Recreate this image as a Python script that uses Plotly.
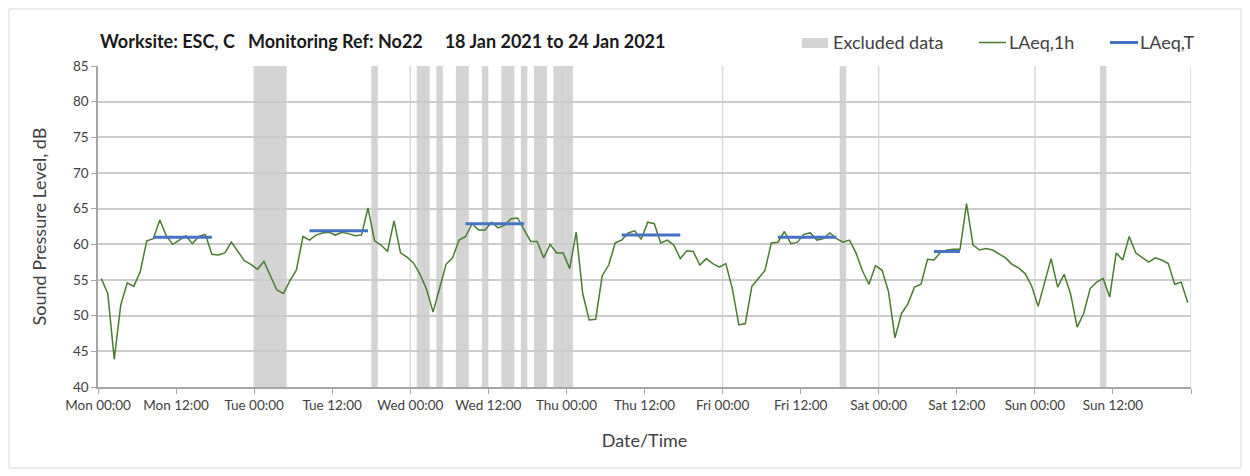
import plotly.graph_objects as go
import pandas as pd

# ---------------- data ----------------
week_start = "2021-01-18 00:00"

# hourly LAeq,1h values (dB), Mon 00:00 .. Sun 23:00
laeq_1h = [
    55.2, 53.1, 43.9, 51.5, 54.6, 54.1, 56.2, 60.5, 60.8, 63.4, 61.2, 60.0,
    60.6, 61.2, 60.1, 61.1, 61.4, 58.6, 58.5, 58.8, 60.3, 59.0, 57.7, 57.2,
    56.5, 57.6, 55.5, 53.6, 53.1, 54.9, 56.4, 61.1, 60.6, 61.3, 61.6, 61.7,
    61.3, 61.7, 61.5, 61.2, 61.3, 65.1, 60.5, 59.9, 59.0, 63.3, 58.8, 58.2,
    57.4, 55.8, 53.7, 50.5, 53.8, 57.2, 58.1, 60.6, 61.1, 62.9, 62.0, 62.0,
    63.1, 62.3, 62.7, 63.6, 63.7, 62.0, 60.4, 60.4, 58.1, 60.0, 58.8, 58.8,
    56.6, 61.7, 53.1, 49.4, 49.5, 55.6, 57.1, 60.2, 60.6, 61.6, 61.9, 60.7,
    63.1, 62.9, 60.2, 60.6, 59.9, 58.0, 59.1, 59.0, 57.1, 58.0, 57.3, 56.8,
    57.3, 53.8, 48.7, 48.9, 54.1, 55.2, 56.3, 60.2, 60.3, 61.8, 60.1, 60.3,
    61.4, 61.6, 60.6, 60.8, 61.6, 60.8, 60.3, 60.6, 58.8, 56.3, 54.4, 57.0,
    56.4, 53.4, 46.9, 50.3, 51.7, 54.0, 54.4, 57.9, 57.8, 58.9, 59.2, 59.3,
    59.3, 65.7, 59.9, 59.2, 59.4, 59.2, 58.6, 58.1, 57.2, 56.7, 55.9, 54.2,
    51.3, 54.6, 58.0, 54.0, 55.8, 53.0, 48.4, 50.3, 53.8, 54.7, 55.2, 52.6,
    58.8, 57.8, 61.1, 58.8, 58.1, 57.5, 58.1, 57.8, 57.3, 54.4, 54.7, 51.8,
]

# LAeq,T periods (hour index of first and last hourly value, and level)
laeqT_first_hour = [8, 32, 56, 80, 104, 128]
laeqT_last_hour = [17, 41, 65, 89, 113, 132]
laeqT_values = [61.0, 61.9, 62.9, 61.3, 61.0, 59.0]

# excluded data periods (hours from Mon 00:00)
excluded_start = [24, 42, 49, 52, 55, 59, 62, 65, 67, 70, 114, 154]
excluded_end = [29, 43, 51, 53, 57, 60, 64, 66, 69, 73, 115, 155]

# x tick labels every 12 h (last tick at the end of the week is unlabelled)
x_tick_labels = ["Mon 00:00", "Mon 12:00", "Tue 00:00", "Tue 12:00", "Wed 00:00",
                 "Wed 12:00", "Thu 00:00", "Thu 12:00", "Fri 00:00", "Fri 12:00",
                 "Sat 00:00", "Sat 12:00", "Sun 00:00", "Sun 12:00", ""]

title_text = "Worksite: ESC, C   Monitoring Ref: No22     18 Jan 2021 to 24 Jan 2021"
y_title = "Sound Pressure Level, dB"
x_title = "Date/Time"
legend_labels = ["Excluded data", "LAeq,1h", "LAeq,T"]

# ---------------- build ----------------
t0 = pd.Timestamp(week_start)
half = pd.Timedelta(minutes=30)
hour = pd.Timedelta(hours=1)
times = [t0 + half + i * hour for i in range(len(laeq_1h))]
tick_vals = [t0 + i * 12 * hour for i in range(len(x_tick_labels))]

GREEN = "#4b7a31"
BLUE = "#4472c4"
GREY_BAND = "#d4d4d4"
FONT = "Lato"
TXT = "#404040"

fig = go.Figure()

fig.add_trace(go.Scatter(
    x=times, y=laeq_1h, mode="lines", name=legend_labels[1],
    line=dict(color=GREEN, width=1.5), showlegend=False,
))

bx, by = [], []
for a, b, v in zip(laeqT_first_hour, laeqT_last_hour, laeqT_values):
    bx += [t0 + half + a * hour, t0 + half + b * hour, None]
    by += [v, v, None]
fig.add_trace(go.Scatter(
    x=bx, y=by, mode="lines", name=legend_labels[2],
    line=dict(color=BLUE, width=3), showlegend=False,
))

shapes = []
for a, b in zip(excluded_start, excluded_end):
    shapes.append(dict(type="rect", xref="x", yref="paper",
                       x0=t0 + a * hour, x1=t0 + b * hour, y0=0, y1=1,
                       fillcolor=GREY_BAND, line=dict(width=0), layer="below"))
# vertical day gridlines
for d in range(1, 8):
    shapes.append(dict(type="line", xref="x", yref="paper",
                       x0=t0 + pd.Timedelta(days=d), x1=t0 + pd.Timedelta(days=d),
                       y0=0, y1=1, line=dict(color="#d9d9d9", width=1.5), layer="below"))

# pixel helpers for layout decoration
L, R, T, B = 98, 1191, 66, 387
def px(xp):
    return (xp - L) / (R - L)
def py(yp):
    return (B - yp) / (B - T)

# manual legend swatches
shapes.append(dict(type="rect", xref="paper", yref="paper",
                   x0=px(802), x1=px(828), y0=py(48), y1=py(38),
                   fillcolor=GREY_BAND, line=dict(width=0)))
shapes.append(dict(type="line", xref="paper", yref="paper",
                   x0=px(979), x1=px(1006), y0=py(42.5), y1=py(42.5),
                   line=dict(color=GREEN, width=1.5)))
shapes.append(dict(type="line", xref="paper", yref="paper",
                   x0=px(1110), x1=px(1138), y0=py(42.5), y1=py(42.5),
                   line=dict(color=BLUE, width=3)))
# chart frame
shapes.append(dict(type="rect", xref="paper", yref="paper",
                   x0=px(9), x1=px(1241), y0=py(468), y1=py(9),
                   line=dict(color="#d9d9d9", width=1), fillcolor="rgba(0,0,0,0)"))

annotations = [
    dict(text=f"<b>{title_text}</b>", xref="paper", yref="paper",
         x=px(98), y=py(41), xanchor="left", yanchor="middle", showarrow=False,
         font=dict(family=FONT, size=18, color="#1a1a1a")),
    dict(text=legend_labels[0], xref="paper", yref="paper",
         x=px(831), y=py(42.5), xanchor="left", yanchor="middle", showarrow=False,
         font=dict(family=FONT, size=18, color=TXT)),
    dict(text=legend_labels[1], xref="paper", yref="paper",
         x=px(1007), y=py(42.5), xanchor="left", yanchor="middle", showarrow=False,
         font=dict(family=FONT, size=18, color=TXT)),
    dict(text=legend_labels[2], xref="paper", yref="paper",
         x=px(1138), y=py(42.5), xanchor="left", yanchor="middle", showarrow=False,
         font=dict(family=FONT, size=18, color=TXT)),
]

fig.update_layout(
    width=1250, height=476,
    margin=dict(l=L, r=1250 - R, t=T, b=476 - B, autoexpand=False),
    paper_bgcolor="white", plot_bgcolor="white",
    shapes=shapes, annotations=annotations,
    showlegend=False,
    font=dict(family=FONT, color=TXT),
)
fig.update_xaxes(
    type="date", range=[t0, t0 + pd.Timedelta(days=7)],
    tickmode="array", tickvals=tick_vals, ticktext=x_tick_labels,
    ticks="outside", ticklen=5, tickcolor="#a6a6a6",
    showline=True, linecolor="#a6a6a6", linewidth=1.5,
    showgrid=False, zeroline=False,
    tickfont=dict(family=FONT, size=13.5, color=TXT),
    title=dict(text=x_title, font=dict(family=FONT, size=18, color=TXT), standoff=22),
)
fig.update_yaxes(
    range=[40, 85], dtick=5, ticks="outside", ticklen=5, tickcolor="#a6a6a6",
    showline=True, linecolor="#a6a6a6", linewidth=1.5,
    showgrid=True, gridcolor="#cbcbcb", gridwidth=1.5, zeroline=False,
    tickfont=dict(family=FONT, size=13.5, color=TXT),
    title=dict(text=y_title, font=dict(family=FONT, size=18, color=TXT), standoff=22),
)

fig.write_html("out.html", config={"displayModeBar": False},
               post_script="document.body.style.margin='0';")
